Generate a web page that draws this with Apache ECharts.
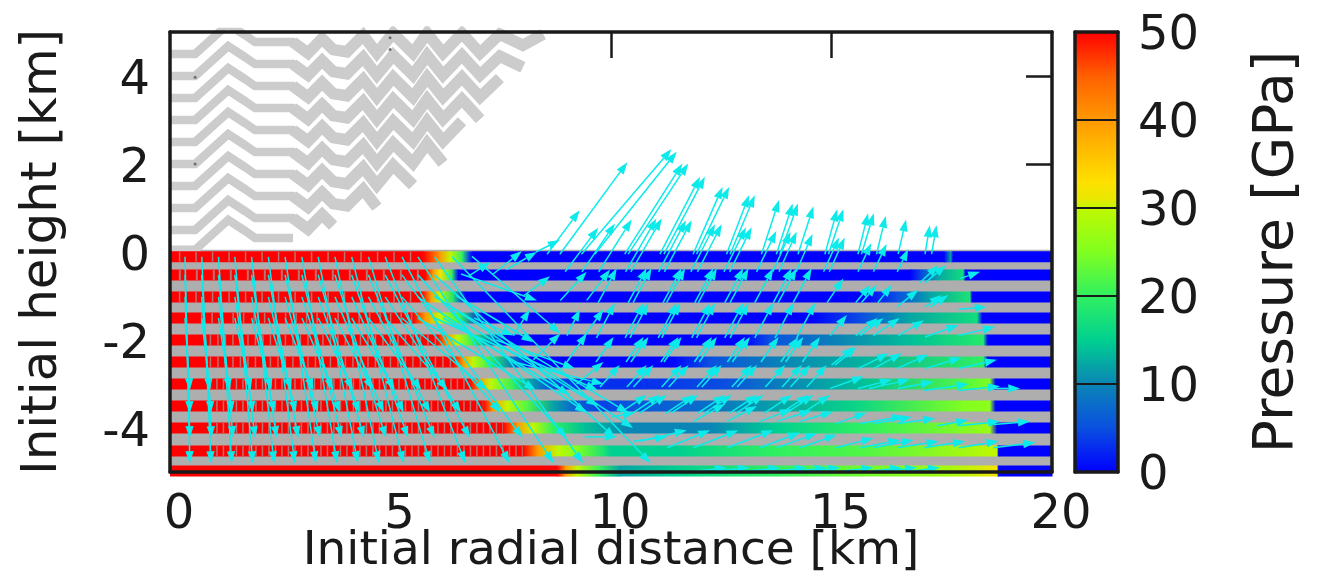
<!DOCTYPE html>
<html><head><meta charset="utf-8">
<script src="https://cdn.jsdelivr.net/npm/echarts@6/dist/echarts.min.js"></script>
<style>html,body{margin:0;padding:0;background:#fff}#c{width:1319px;height:588px}</style>
</head><body><div id="c"></div>
<script>
// tick labels
const xTicks = [0, 5, 10, 15, 20];
const yTicks = [-4, -2, 0, 2, 4];
const barTicks = [0, 10, 20, 30, 40, 50];
const topTicks = [10, 15];
const sideTicks = [2, 4];
// colour scale of pressure [GPa]
const scaleP = [0, 5, 10, 15, 20, 25, 30, 31, 33, 40, 45, 50];
const scaleC = ['#0000ff','#0a50e0','#0a85b5','#00d090','#30f060','#80ff20','#c0f800','#e8e800','#ffe000','#ff9900','#ff6000','#ff0000'];
// pressure along each initial-height row
const rowH = [-0.11,-0.52,-1.02,-1.5,-2.0,-2.5,-3.0,-3.5,-4.0,-4.52,-4.98];
const rowX0 = [0,5.74,6.12,6.35,6.62,6.76,6.85,17.55,17.7,17.75,20];
const rowP0 = [50,50,40,30,20,5,0,0,12,0,0];
const rowX1 = [0,5.78,5.96,6.12,6.39,6.53,16.78,17.0,17.39,17.98,18.03,20];
const rowP1 = [50,50,40,32,20,0,0,4,12,17,0,0];
const rowX2 = [0,5.71,5.9,6.12,6.42,6.69,15.71,16.49,17.23,18.14,18.18,20];
const rowP2 = [50,50,40,30,18,0,0,5,12,18,0,0];
const rowX3 = [0,5.51,5.78,6.12,6.58,7.1,14.51,15.71,16.71,18.3,18.41,20];
const rowP3 = [50,50,40,30,20,0,0,5,12,17,0,0];
const rowX4 = [0,6.05,6.28,6.51,6.87,7.26,7.6,13,13.6,15.19,16.85,18.44,18.53,20];
const rowP4 = [50,50,40,30,20,10,0,0,5,10,14,19,0,0];
const rowX5 = [0,6.42,6.64,6.87,7.26,7.71,8.16,11.34,12.24,13.9,15.71,18.44,18.53,20];
const rowP5 = [50,50,40,30,20,10,0,0,5,10,13,20,0,0];
const rowX6 = [0,6.8,7.03,7.26,7.78,8.16,8.55,9.23,10.73,12.63,13.99,15.71,17.98,18.59,18.71,20];
const rowP6 = [50,50,40,30,20,12,6,3,3,5,10,14,22,25,0,0];
const rowX7 = [0,7.1,7.32,7.64,8.1,8.68,9.14,9.82,10.2,12.24,13.76,15.58,17.98,18.59,18.71,20];
const rowP7 = [50,50,40,30,22,12,7,4,5,8,12,16,25,26,0,0];
const rowX8 = [0,7.55,7.87,8.23,8.68,9.37,10.36,12.24,13.76,15.71,18.59,18.75,20];
const rowP8 = [50,50,40,30,20,14,10,10,15,20,27,0,0];
const rowX9 = [0,8.0,8.32,8.78,9.23,9.82,9.98,11.5,13.76,15.71,18.75,18.78,20];
const rowP9 = [50,50,40,30,25,18,15,15,20,22,30,0,0];
const rowX10 = [0,8.78,8.96,9.23,9.75,10.2,11.5,13.76,15.71,17.69,18.75,18.78,20];
const rowP10 = [50,50,40,30,20,12,15,20,24,28,32,0,0];
const rowXs = [rowX0,rowX1,rowX2,rowX3,rowX4,rowX5,rowX6,rowX7,rowX8,rowX9,rowX10];
const rowPs = [rowP0,rowP1,rowP2,rowP3,rowP4,rowP5,rowP6,rowP7,rowP8,rowP9,rowP10];
// deformed rows above ground
const airH = [4.5,4.0,3.5,3.0,2.5,2.0,1.5,1.0,0.5,0.05];
const airEnd = [8.5,8.2,7.8,7.3,6.8,6.3,5.75,4.75,3.7,2.8];
const airShapeX = [0,0.57,1.32,1.70,1.93,2.54,2.79,3.13,3.45,3.70,4.01,4.38,4.69,5.06,5.51,5.83,6.19,6.62,7.03,7.48,8.0,8.46];
const airShapeH = [0,0,0.68,0.43,0.27,0.27,0.27,0.02,0.35,0.1,0.05,0.42,0.02,0.47,0.02,0.47,0.02,0.47,0.02,0.45,0.2,0.45];
const airSpecks = [[0.57,3.97],[0.57,2.0],[4.99,4.6],[4.99,4.87]];
// displacement arrows: steep fan on the left
const fanTail = [0.34,0.72,1.10,1.47,1.85,2.23,2.61,2.99,3.36,3.74,4.12,4.50,4.88,5.26,5.62,6.0,6.4];
const fanTip0 = [0.45,0.93,1.40,1.88,2.36,2.83,3.31,3.79,4.26,4.74,5.3,5.9,6.7,7.7,8.7,9.37,10.9];
const fanTip1 = [0.45,0.94,1.43,1.93,2.42,2.91,3.40,3.89,4.4,4.9,5.4,6.0,6.8,8.0,9.0,10.1];
const fanTip2 = [0.45,0.93,1.40,1.88,2.36,2.85,3.35,3.85,4.3,4.85,5.3,5.9,6.6,7.5,9.45,10.4];
const fanTip3 = [0.45,0.9,1.35,1.83,2.3,2.75,3.25,3.7,4.15,4.6,5.1,5.7,6.3,7.2,8.3,9.7];
// arrows above the ground: [x0,h0,x1,h1]
const arrowsAirHigh = [
 [8.84,-0.05,10.37,2.04],[9.33,-0.05,11.37,2.34],[9.63,-0.05,11.49,2.28],[10.31,-0.05,11.62,2.01],[10.39,-0.05,11.75,2.01],
 [11.11,-0.05,12.02,1.71],[11.2,-0.05,12.13,1.71],[11.86,-0.05,12.53,1.48],[11.94,-0.05,12.68,1.48],[12.62,-0.05,13.13,1.29],
 [12.7,-0.05,13.26,1.29],[13.41,-0.05,13.81,1.18],[13.75,-0.05,14.12,1.1],[13.83,-0.05,14.24,1.1],[14.24,-0.05,14.59,1.04],
 [14.85,-0.05,15.13,0.97],[14.93,-0.05,15.27,0.97],[15.6,-0.05,15.83,0.88],[15.68,-0.05,15.96,0.88],[16.02,-0.05,16.23,0.82],
 [16.51,-0.05,16.69,0.74],[17.12,-0.05,17.23,0.61],[17.27,-0.05,17.38,0.61]];
const arrowsAirLow = [
 [8.55,-0.05,9.29,0.95],[8.3,0,8.84,0.27],[8.96,-0.45,9.71,0.55],[9.34,-0.45,10.09,0.65],[9.72,-0.45,10.47,0.74],
 [10.33,-0.45,11.03,0.76],[10.45,-0.45,11.15,0.76],[11.08,-0.45,11.7,0.72],[11.21,-0.45,11.83,0.72],[11.81,-0.45,12.36,0.63],
 [11.96,-0.45,12.51,0.63],[12.56,-0.45,13.06,0.56],[12.69,-0.45,13.19,0.56],[13.3,-0.45,13.75,0.48],[13.67,-0.45,14.07,0.46],
 [13.81,-0.45,14.21,0.46],[14.2,-0.45,14.57,0.41],[14.82,-0.45,15.17,0.33],[14.95,-0.45,15.3,0.33],[15.6,-0.45,15.9,0.2],
 [15.95,-0.45,16.25,0.18],[16.49,-0.45,16.74,0.07]];
// up-right arrows in the rock, by level: tails and tips
const lvl2Tail = [9.71,10.39,10.5,11.18,11.26,11.9,11.98,12.58,12.7,13.26,13.68,13.79,14.13];
const lvl2Tip = [10.13,10.81,10.92,11.6,11.68,12.32,12.4,13.0,13.12,13.68,14.1,14.21,14.55];
const lvl3Tail = [9.67,10.32,10.43,11.07,11.15,11.83,11.94,12.58,12.7,13.26,13.72,14.21];
const lvl3Tip = [10.09,10.74,10.85,11.49,11.57,12.25,12.36,13.0,13.12,13.68,14.14,14.63];
const lvl4Tail = [9.66,10.34,10.45,11.13,11.2,11.89,12.0,12.64,12.75,13.4,13.85,13.96,14.34];
const lvl4Tip = [10.06,10.74,10.85,11.53,11.6,12.29,12.4,13.04,13.15,13.8,14.25,14.36,14.74];
const lvl5Tail = [9.75,10.36,10.51,11.15,11.31,11.95,12.06,12.74,12.86,13.5,13.88,14.07,14.44];
const lvl5Tip = [10.2,10.81,10.96,11.6,11.76,12.4,12.51,13.19,13.31,13.95,14.33,14.52,14.89];
const lvl6Tail = [10.19,10.49,10.65,11.25,11.36,11.97,12.12,12.69,12.84,13.48,13.86,13.97,14.35];
const lvl6Tip = [10.81,11.11,11.27,11.87,11.98,12.59,12.74,13.31,13.46,14.1,14.48,14.59,14.97];
// remaining arrows: [x0,h0,x1,h1]
const arrowsRight = [
 [14.9,-1.15,15.27,-0.6],[15.55,-1.15,15.88,-0.75],[15.68,-1.15,16.03,-0.75],[16.05,-1.15,16.37,-0.75],[17.0,-0.7,17.43,-0.3],[17.12,-0.7,17.6,-0.3],[17.92,-0.6,18.37,-0.45],
 [17.12,-1.25,17.5,-0.98],[17.24,-1.25,17.65,-0.98],[16.48,-1.25,16.97,-0.86],[17.88,-1.3,18.52,-1.25],
 [14.97,-1.9,15.35,-1.43],[15.55,-1.9,16.05,-1.5],[15.65,-1.9,16.18,-1.5],[15.95,-1.9,16.55,-1.5],[16.52,-1.9,17.1,-1.55],[17.12,-1.93,17.88,-1.66],[17.88,-1.9,18.71,-1.7],
 [15.0,-2.57,15.5,-2.16],[15.08,-2.57,15.57,-2.16],[15.6,-2.65,16.3,-2.3],[15.95,-2.65,16.6,-2.3],[16.48,-2.65,17.2,-2.33],[17.12,-2.65,17.95,-2.4],[17.88,-2.65,18.75,-2.45],
 [14.97,-3.1,15.73,-2.83],[15.6,-3.1,16.37,-2.9],[15.85,-3.1,16.78,-2.9],[16.5,-3.1,17.31,-2.95],[17.1,-3.15,18.11,-3.0],[17.88,-3.15,18.82,-3.05],[18.67,-3.1,19.28,-3.1],
 [10.0,-3.75,10.55,-3.65],[11.87,-3.85,12.59,-3.45],[12.63,-3.85,13.31,-3.5],[13.38,-3.85,14.1,-3.57],[13.76,-3.85,14.55,-3.6],[14.29,-3.85,15.04,-3.63],
 [15.1,-3.9,15.8,-3.65],[15.65,-3.9,16.63,-3.73],[15.95,-3.9,16.82,-3.75],[16.5,-3.9,17.35,-3.78],[17.4,-3.95,18.1,-3.82],[17.88,-3.95,18.82,-3.85],[18.67,-3.92,19.5,-3.85],
 [10.66,-4.3,11.72,-4.05],[11.27,-4.45,12.25,-4.05],[11.87,-4.45,12.89,-4.05],[12.63,-4.45,13.68,-4.05],[13.38,-4.45,14.29,-4.1],[13.76,-4.45,14.67,-4.12],[14.29,-4.45,15.12,-4.15],
 [10.5,-4.3,11.27,-4.2],[9.4,-4.2,10.13,-4.2],
 [15.1,-4.45,15.95,-4.23],[15.65,-4.45,16.56,-4.27],[15.95,-4.45,16.86,-4.27],[16.5,-4.45,17.43,-4.3],[17.1,-4.45,18.03,-4.3],[17.88,-4.45,18.79,-4.3],[18.67,-4.45,19.62,-4.33],
 [11.9,-4.98,12.63,-4.9],[12.4,-4.98,13.15,-4.9],[13.1,-4.98,13.84,-4.9],[13.7,-4.98,14.44,-4.9],[14.2,-4.98,14.89,-4.9],[14.5,-4.98,15.2,-4.9],[15.25,-4.98,15.95,-4.9],[15.9,-4.98,16.6,-4.9],[16.25,-4.98,16.94,-4.9],[16.8,-4.98,17.46,-4.9]];
const arrowsMiddle = [
 [6.77,-0.55,7.26,-0.23],[7.33,-0.5,7.98,0.02],[7.63,-0.4,8.32,0.0],[8.01,-1.0,8.62,-0.55],[8.85,-1.1,9.45,-0.45],[9.45,-1.1,9.98,-0.4],
 [7.79,-1.9,8.16,-1.3],[8.24,-2.45,8.85,-1.85],[9.0,-2.5,9.45,-1.85],[9.22,-3.0,9.83,-2.5],[9.37,-1.95,9.83,-1.3],[9.0,-1.9,9.3,-1.3],
 [6.6,-0.5,8.32,-1.1],[6.85,-0.1,8.85,-1.85],[6.5,-1.0,8.24,-2.05],[6.9,-1.5,7.79,-1.9],[7.4,-2.0,9.18,-2.65],[7.8,-2.5,9.83,-3.0],
 [6.2,-1.5,9.07,-3.25],[6.5,-1.5,9.71,-3.5],[6.0,-1.0,10.5,-4.0]];

const GRID_L = 170, GRID_T = 32, GRID_W = 882, GRID_H = 440;
const FONT = '"DejaVu Sans"';
const INK = '#1a1a1a', CYAN = '#0ceaea';

function colourOf(p) {
  for (let i = 1; i < scaleP.length; i++) {
    if (p <= scaleP[i]) {
      const t = (p - scaleP[i-1]) / (scaleP[i] - scaleP[i-1]);
      const a = echarts.color.parse(scaleC[i-1]), b = echarts.color.parse(scaleC[i]);
      return 'rgb(' + [0,1,2].map(k => Math.round(a[k] + (b[k]-a[k])*t)).join(',') + ')';
    }
  }
  return scaleC[scaleC.length-1];
}
// row table
const rowSegments = [];
rowH.forEach((h, r) => {
  const xs = rowXs[r], ps = rowPs[r];
  for (let i = 1; i < xs.length; i++) rowSegments.push([xs[i-1], xs[i], h, ps[i-1], ps[i]]);
});
// arrow table
const arrows = [];
const fan = (tips, h0, h1) => tips.forEach((t, i) => arrows.push([fanTail[i], h0, t, h1]));
fan(fanTip0, -0.11, -4.8); fan(fanTip1, -0.52, -4.23); fan(fanTip2, -1.02, -3.66); fan(fanTip3, -1.5, -3.14);
const level = (tails, tips, h0, h1) => tails.forEach((t, i) => arrows.push([t, h0, tips[i], h1]));
level(lvl2Tail, lvl2Tip, -1.15, -0.37);
level(lvl3Tail, lvl3Tip, -1.95, -1.16);
level(lvl4Tail, lvl4Tip, -2.5, -1.93);
level(lvl5Tail, lvl5Tip, -3.07, -2.57);
level(lvl6Tail, lvl6Tip, -3.66, -3.25);
arrows.push(...arrowsAirHigh, ...arrowsAirLow, ...arrowsRight, ...arrowsMiddle);

const airLine = (h, r, from, width) => ({
  type: 'line', xAxisIndex: 0, yAxisIndex: 0, silent: true, showSymbol: false, z: 1,
  lineStyle: { color: '#cccccc', width: width, join: 'miter' },
  data: airShapeX.map((x, i) => [x, h + airShapeH[i]]).filter(d => d[0] >= from && d[0] <= airEnd[r])
});
const airSeries = airH.map((h, r) => airLine(h, r, 0, 8.5))
  .concat(airH.map((h, r) => airLine(h, r, 2.79, 11.5)));
const hatchDash = [[1.5,15],[2,15],[1.5,15],[1.5,9],[1.5,6],[1.5,6],[1.5,5],[1.5,5],[1.5,5],[1.5,5]];
const hatchStart = [0.2,0.2,0.2,0.7,0.9,0.9,0.9,0.9,0.9,0.9];
const hatchSeries = hatchDash.map((d, r) => ({
  type: 'line', xAxisIndex: 0, yAxisIndex: 0, silent: true, showSymbol: false, z: 3,
  lineStyle: { color: '#b08080', width: 10, type: d, cap: 'butt', opacity: 0.9 },
  data: [[hatchStart[r], rowH[r]], [rowXs[r][1], rowH[r]]]
}));

const frame = { show: true, onZero: false, lineStyle: { color: INK, width: 3.5 } };
const option = {
  animation: false,
  backgroundColor: '#fff',
  grid: [
    { left: GRID_L, top: GRID_T, width: GRID_W, height: GRID_H, outerBoundsMode: 'none' },
    { left: 1075, top: GRID_T, width: 43, height: GRID_H, outerBoundsMode: 'none' }
  ],
  xAxis: [
    { type: 'value', gridIndex: 0, min: 0, max: 20, interval: 5, position: 'bottom', z: 10,
      name: 'Initial radial distance [km]', nameLocation: 'middle', nameGap: 56, nameMoveOverlap: false,
      nameTextStyle: { fontFamily: FONT, fontSize: 47, color: INK },
      axisLine: frame,
      axisTick: { show: false }, splitLine: { show: false },
      axisLabel: { fontFamily: FONT, fontSize: 48, color: INK, margin: 20, padding: [0,0,0,18], customValues: xTicks } },
    { type: 'value', gridIndex: 0, min: 0, max: 20, position: 'top', z: 10,
      axisLine: frame,
      axisTick: { show: true, inside: true, length: 26, lineStyle: { color: INK, width: 2.5 }, customValues: topTicks },
      axisLabel: { show: false }, splitLine: { show: false } },
    { type: 'value', gridIndex: 1, min: 0, max: 1, position: 'bottom', z: 10,
      axisLine: frame,
      axisTick: { show: false }, axisLabel: { show: false }, splitLine: { show: false } },
    { type: 'value', gridIndex: 1, min: 0, max: 1, position: 'top', z: 10,
      axisLine: frame,
      axisTick: { show: false }, axisLabel: { show: false }, splitLine: { show: false } }
  ],
  yAxis: [
    { type: 'value', gridIndex: 0, min: -5, max: 5, position: 'left', z: 10,
      name: 'Initial height [km]', nameLocation: 'middle', nameGap: 102, nameRotate: 90,
      nameTextStyle: { fontFamily: FONT, fontSize: 50, color: INK },
      axisLine: frame,
      axisTick: { show: false }, splitLine: { show: false },
      axisLabel: { fontFamily: FONT, fontSize: 48, color: INK, margin: 20, verticalAlign: 'top', lineHeight: 12, customValues: yTicks } },
    { type: 'value', gridIndex: 0, min: -5, max: 5, position: 'right', z: 10,
      axisLine: frame,
      axisTick: { show: true, inside: true, length: 26, lineStyle: { color: INK, width: 2.5 }, customValues: sideTicks },
      axisLabel: { show: false }, splitLine: { show: false } },
    { type: 'value', gridIndex: 1, min: 0, max: 50, interval: 10, position: 'right', z: 10,
      name: 'Pressure [GPa]', nameLocation: 'middle', nameGap: 132, nameRotate: 90,
      nameTextStyle: { fontFamily: FONT, fontSize: 55, color: INK },
      axisLine: frame,
      axisTick: { show: false },
      splitLine: { show: true, lineStyle: { color: INK, width: 2 } },
      axisLabel: { fontFamily: FONT, fontSize: 48, color: INK, margin: 20, verticalAlign: 'top', lineHeight: 10, customValues: barTicks } },
    { type: 'value', gridIndex: 1, min: 0, max: 50, position: 'left', z: 10,
      axisLine: frame,
      axisTick: { show: false }, axisLabel: { show: false }, splitLine: { show: false } }
  ],
  series: [
    { type: 'custom', xAxisIndex: 0, yAxisIndex: 0, z: 1, silent: true, clip: false,
      data: [[0, 0.05, 20, -5]],
      encode: { x: [0, 2], y: [1, 3] },
      renderItem: (p, api) => {
        const a = api.coord([api.value(0), api.value(1)]), b = api.coord([api.value(2), api.value(3)]);
        return { type: 'rect', shape: { x: a[0], y: a[1], width: b[0]-a[0], height: b[1]-a[1] }, style: { fill: '#aeaeae' } };
      } },
    ...airSeries,
    { type: 'scatter', xAxisIndex: 0, yAxisIndex: 0, z: 2, silent: true, symbolSize: 3,
      itemStyle: { color: '#555555' }, data: airSpecks },
    { type: 'custom', xAxisIndex: 0, yAxisIndex: 0, z: 2, silent: true, clip: false,
      data: rowSegments,
      encode: { x: [0, 1], y: 2 },
      renderItem: (p, api) => {
        const a = api.coord([api.value(0), api.value(2)]), b = api.coord([api.value(1), api.value(2)]);
        const c0 = colourOf(api.value(3)), c1 = colourOf(api.value(4));
        return { type: 'rect', shape: { x: a[0], y: a[1]-5.5, width: b[0]-a[0]+0.5, height: 11 },
          style: { fill: new echarts.graphic.LinearGradient(0,0,1,0,[{offset:0,color:c0},{offset:1,color:c1}]) } };
      } },
    ...hatchSeries,
    { type: 'custom', xAxisIndex: 0, yAxisIndex: 0, z: 4, silent: true, clip: false,
      data: arrows,
      encode: { x: [0, 2], y: [1, 3] },
      renderItem: (p, api) => {
        const a = api.coord([api.value(0), api.value(1)]), b = api.coord([api.value(2), api.value(3)]);
        const dx = b[0]-a[0], dy = b[1]-a[1], L = Math.hypot(dx, dy) || 1;
        const ux = dx/L, uy = dy/L, len = 12, w = 4.2;
        const bx = b[0]-ux*len, by = b[1]-uy*len;
        return { type: 'group', children: [
          { type: 'line', shape: { x1: a[0], y1: a[1], x2: bx, y2: by }, style: { stroke: CYAN, lineWidth: 1.5 } },
          { type: 'polygon', shape: { points: [[b[0],b[1]],[bx-uy*w,by+ux*w],[bx+uy*w,by-ux*w]] }, style: { fill: CYAN } }
        ] };
      } },
    { type: 'custom', xAxisIndex: 2, yAxisIndex: 2, z: 2, silent: true,
      data: [[0, 1, 0, 50]],
      encode: { x: [0, 1], y: [2, 3] },
      renderItem: (p, api) => {
        const a = api.coord([api.value(0), api.value(3)]), b = api.coord([api.value(1), api.value(2)]);
        return { type: 'rect', shape: { x: a[0], y: a[1], width: b[0]-a[0], height: b[1]-a[1] },
          style: { fill: new echarts.graphic.LinearGradient(0,1,0,0, scaleP.map((v,i)=>({offset:v/50,color:scaleC[i]}))) } };
      } }
  ]
};
echarts.init(document.getElementById('c'), null, { renderer: 'canvas' }).setOption(option);
</script></body></html>
